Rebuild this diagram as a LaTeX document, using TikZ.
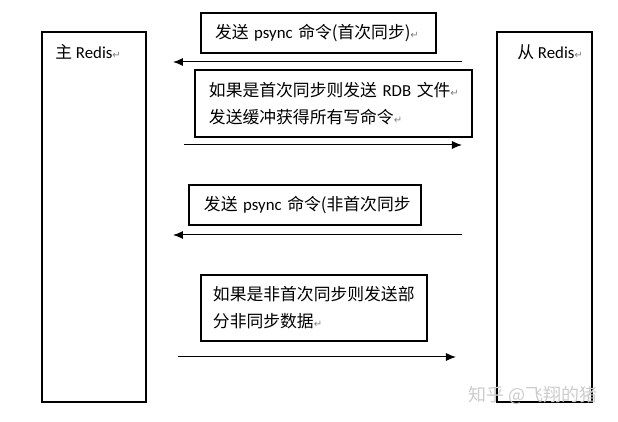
\documentclass[tikz,border=0pt]{standalone}
\usepackage{fontspec}
\setmainfont{Carlito}
\newfontfamily\cjk{Noto Sans CJK SC}
\newfontfamily\symfont{DejaVu Sans}
\usetikzlibrary{arrows.meta}

\newcommand\zh[1]{{\cjk #1}}
\newcommand\parmark{{\symfont\fontsize{5}{5}\selectfont\textcolor{gray}{↵}}}

\tikzset{
  redisbox/.style={draw, line width=0.6pt, minimum height=185pt, inner sep=0pt},
  namelbl/.style={anchor=west, inner sep=0pt, font=\fontsize{8.4}{10}\selectfont},
  msgbox/.style={draw, line width=0.6pt, align=left, inner xsep=7pt, inner ysep=0pt,
    font=\fontsize{8.4}{13.5}\selectfont},
  msgarrow/.style={line width=0.5pt, -{Latex[length=5pt,width=4pt]}},
  wmark/.style={text=gray!40, inner sep=0pt, font=\fontsize{9}{10}\selectfont}
}

\begin{document}
\begin{tikzpicture}[x=0.5pt,y=-0.5pt]
\useasboundingbox (0,0) rectangle (618,422);

% Redis
\node[redisbox, minimum width=52pt] (master) at (94,217) {};
\node[namelbl] (masterlbl) at (55,52) {\zh{主} Redis\parmark};
\node[redisbox, minimum width=47.5pt] (slave) at (544.5,217) {};
\node[namelbl] (slavelbl) at (517,52) {\zh{从} Redis\parmark};

% psync (首次)
\node[msgbox, text width=103.5pt, minimum height=20pt] (psync1) at (318.5,33)
  {\mbox{\zh{发送} psync \zh{命令(首次同步)}\parmark}};
\coordinate (a1s) at (462,62);
\coordinate (a1e) at (173,62);
\draw[msgarrow] (a1s) -- (a1e);

% RDB
\node[msgbox, text width=124.5pt, minimum height=33.5pt] (rdb) at (333.5,103.5)
  {\mbox{\zh{如果是首次同步则发送} RDB \zh{文件}\parmark}\\
   \mbox{\zh{发送缓冲获得所有写命令}\parmark}};
\coordinate (a2s) at (184,145);
\coordinate (a2e) at (462,145);
\draw[msgarrow] (a2s) -- (a2e);

% psync (非首次)
\node[msgbox, inner xsep=7.5pt, text width=101pt, minimum height=20pt] (psync2) at (305,205)
  {\mbox{\zh{发送} psync \zh{命令(非首次同步}}};
\coordinate (a3s) at (462,235);
\coordinate (a3e) at (173,235);
\draw[msgarrow] (a3s) -- (a3e);

% partial
\node[msgbox, inner xsep=6pt, text width=101pt, minimum height=33pt] (partial) at (314,308)
  {\mbox{\zh{如果是非首次同步则发送部}}\\
   \mbox{\zh{分非同步数据}\parmark}};
\coordinate (a4s) at (178,357);
\coordinate (a4e) at (456,357);
\draw[msgarrow] (a4s) -- (a4e);

\node[wmark, anchor=west] (wm) at (468,395) {\zh{知乎 @飞翔的猪}};

\end{tikzpicture}
\end{document}
